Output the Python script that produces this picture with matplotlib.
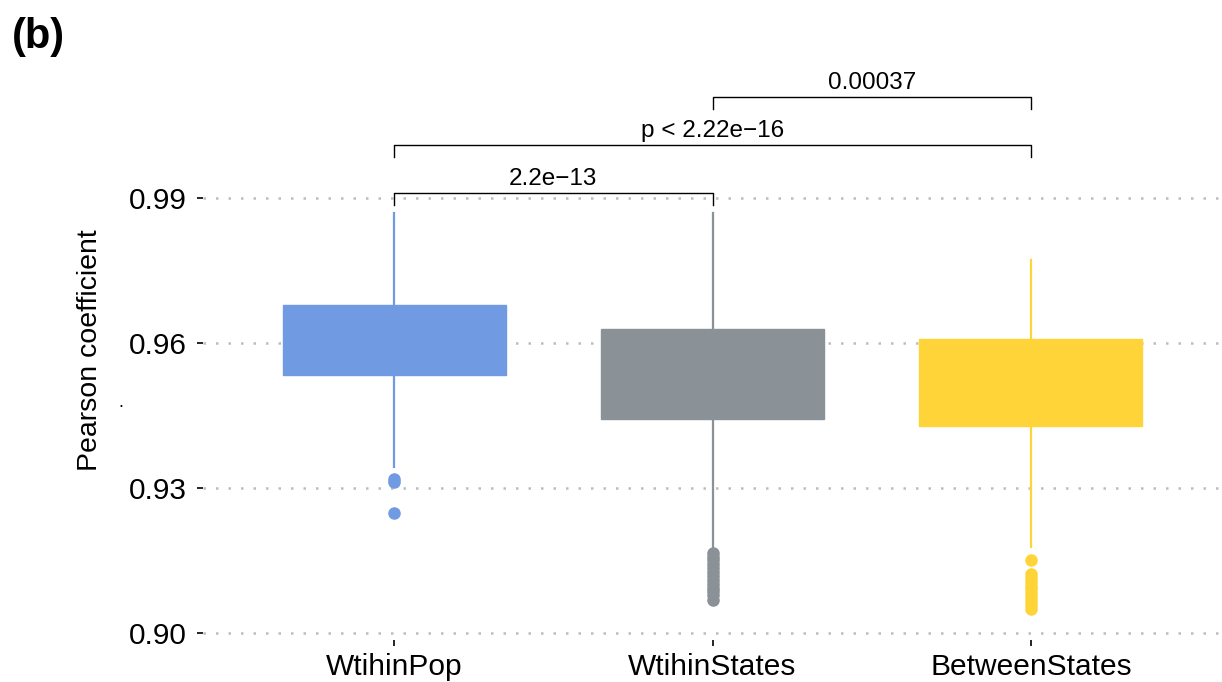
import matplotlib
matplotlib.use("Agg")
import matplotlib.pyplot as plt

plt.rcParams['font.family'] = ['Liberation Sans', 'DejaVu Sans']

# summary stats per group (Pearson coefficient)
groups = ["WtihinPop", "WtihinStates", "BetweenStates"]
colors = ["#709AE1", "#8A9197", "#FED439"]
q1 = [0.9534, 0.9443, 0.9428]
q3 = [0.9679, 0.9629, 0.9608]
medians = [0.9600, 0.9540, 0.9520]
whisker_lo = [0.9343, 0.9176, 0.9178]
whisker_hi = [0.9869, 0.9869, 0.9772]
outliers = [
    [0.9318, 0.9313, 0.9249],
    [0.9166, 0.9158, 0.9150, 0.9142, 0.9134, 0.9126, 0.9118, 0.9110,
     0.9102, 0.9094, 0.9086, 0.9078, 0.9068],
    [0.9152, 0.9122, 0.9114, 0.9106, 0.9098, 0.9090, 0.9082, 0.9074,
     0.9066, 0.9058, 0.9050],
]

# pairwise comparisons: (left group, right group, label, bracket height)
comparisons = [
    (1, 2, "2.2e\u221213", 0.9910),
    (1, 3, "p < 2.22e\u221216", 1.0010),
    (2, 3, "0.00037", 1.0109),
]
yticks = [0.90, 0.93, 0.96, 0.99]

fig = plt.figure(figsize=(12.22, 6.82), dpi=100)
ax = fig.add_axes([203 / 1222, 1 - 640 / 682, 1019 / 1222, 565 / 682])

stats = []
for i, g in enumerate(groups):
    stats.append(dict(label=g, med=medians[i], q1=q1[i], q3=q3[i],
                      whislo=whisker_lo[i], whishi=whisker_hi[i],
                      fliers=outliers[i]))

bp = ax.bxp(stats, positions=[1, 2, 3], widths=0.7, patch_artist=True,
            showcaps=False, zorder=3)
for i, c in enumerate(colors):
    bp['boxes'][i].set(facecolor=c, edgecolor=c, linewidth=1.0)
    bp['medians'][i].set(color=c, linewidth=1.0)
    for w in bp['whiskers'][2 * i:2 * i + 2]:
        w.set(color=c, linewidth=1.6)
    bp['fliers'][i].set(marker='o', markerfacecolor=c, markeredgecolor=c,
                        markersize=8)

# significance brackets
drop = 0.0025
for a, b, label, h in comparisons:
    ax.plot([a, a, b, b], [h - drop, h, h, h - drop], color='black',
            linewidth=1.0, zorder=4, clip_on=False)
    ax.text((a + b) / 2, h + 0.0006, label, ha='center', va='bottom',
            fontsize=17.5)

ax.set_xlim(0.4, 3.6)
ax.set_ylim(0.89855, 1.01545)
ax.set_yticks(yticks)
ax.set_yticklabels([f"{t:.2f}" for t in yticks])
ax.set_xticks([1, 2, 3])
ax.set_xticklabels(groups)
ax.yaxis.grid(True, linestyle=(0, (1, 4)), color='#bdbdbd', linewidth=1.8)
ax.set_axisbelow(True)
for s in ax.spines.values():
    s.set_visible(False)
ax.tick_params(axis='both', labelsize=21.5, length=4.5, width=1.2,
               colors='black')
ax.tick_params(axis='y', pad=7)
ax.tick_params(axis='x', pad=5)
ax.set_ylabel("Pearson coefficient", fontsize=20.5)
ax.yaxis.set_label_coords(-100 / 1019, 0.513)

fig.text(121 / 1222, 1 - 411 / 682, ".", fontsize=13, ha='center', va='bottom')
fig.text(12 / 1222, 1 - 48 / 682, "(b)", fontsize=30, fontweight='bold',
         ha='left', va='baseline')

fig.savefig("out.png", dpi=100)
